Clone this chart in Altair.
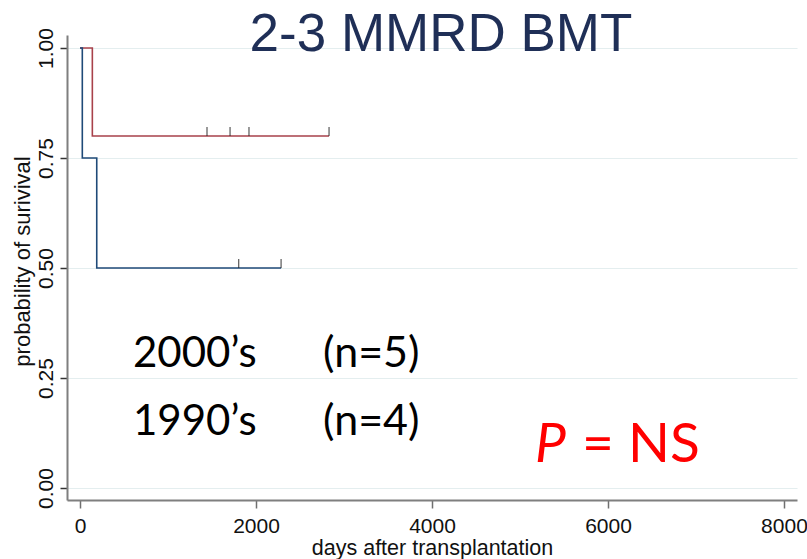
import altair as alt
import pandas as pd

# Kaplan-Meier step curves (days after transplantation, survival probability)
groups = ["2000's", "1990's"]
time_2000s = [0, 140, 2830]
surv_2000s = [1.0, 0.80, 0.80]
time_1990s = [0, 26, 190, 2285]
surv_1990s = [1.0, 0.75, 0.50, 0.50]

# censored observations
cens_time_2000s = [1443, 1705, 1920, 2830]
cens_surv_2000s = [0.80, 0.80, 0.80, 0.80]
cens_time_1990s = [1803, 2285]
cens_surv_1990s = [0.50, 0.50]

y_ticks = [0, 0.25, 0.5, 0.75, 1.0]
x_ticks = [0, 2000, 4000, 6000, 8000]

line_colors = ["#a8414b", "#1f4a78"]

curves = pd.DataFrame(
    [{"group": groups[0], "days": t, "surv": s} for t, s in zip(time_2000s, surv_2000s)]
    + [{"group": groups[1], "days": t, "surv": s} for t, s in zip(time_1990s, surv_1990s)]
)
censored = pd.DataFrame(
    [{"group": groups[0], "days": t, "surv": s} for t, s in zip(cens_time_2000s, cens_surv_2000s)]
    + [{"group": groups[1], "days": t, "surv": s} for t, s in zip(cens_time_1990s, cens_surv_1990s)]
)

x_scale = alt.Scale(domain=[-148, 8148], nice=False, zero=False)
y_scale = alt.Scale(domain=[-0.027, 1.0295], nice=False, zero=False)

x_axis = alt.Axis(
    title="days after transplantation",
    values=x_ticks,
    format="d",
    grid=False,
    tickSize=8,
    labelPadding=24,
    labelBaseline="alphabetic",
    labelFontSize=21,
    titleFontSize=21.5,
    titleFontWeight="normal",
    titleBaseline="alphabetic",
    titleX=365,
    titleY=54,
    titleColor="#111111",
    labelColor="#111111",
)
y_axis = alt.Axis(
    title="probability of surivival",
    values=y_ticks,
    format=".2f",
    grid=True,
    gridColor="#e4eeef",
    gridWidth=1.2,
    tickSize=7,
    labelAngle=-90,
    labelAlign="center",
    labelBaseline="alphabetic",
    labelPadding=8,
    labelFontSize=21,
    titleFontSize=22,
    titleFontWeight="normal",
    titleAngle=-90,
    titleAlign="center",
    titleBaseline="alphabetic",
    titleX=-38,
    titleY=226,
    titleColor="#111111",
    labelColor="#111111",
    tickColor="#333333",
)

color = alt.Color("group:N", scale=alt.Scale(domain=groups, range=line_colors), legend=None)

steps = alt.Chart(curves).mark_line(interpolate="step-after", strokeWidth=1.6).encode(
    x=alt.X("days:Q", scale=x_scale, axis=x_axis),
    y=alt.Y("surv:Q", scale=y_scale, axis=y_axis),
    color=color,
    detail="group:N",
)

ticks = alt.Chart(censored).mark_tick(
    orient="vertical", size=9, thickness=1.3, color="#222222", yOffset=-4.5
).encode(
    x=alt.X("days:Q", scale=x_scale),
    y=alt.Y("surv:Q", scale=y_scale),
)


def label(text, x, y, size, color="#000000", font="Lato", align="left", style="normal"):
    return alt.Chart(pd.DataFrame({"t": [text]})).mark_text(
        font=font, fontSize=size, color=color, align=align, baseline="alphabetic",
        fontStyle=style,
    ).encode(text="t:N", x=alt.value(x), y=alt.value(y))


title = label("2-3 MMRD BMT", 374, 16, 53, color="#1f2f57", font="Liberation Sans", align="center")
l1a = label("2000\u2019s", 66, 332, 42)
l1b = label("(n=5)", 256, 332, 43)
l2a = label("1990\u2019s", 66, 400, 42)
l2b = label("(n=4)", 256, 400, 43)
p_it = label("P", 468, 427, 55, color="#ff0000", style="italic")
p_rest = label("= NS", 515, 427, 55, color="#ff0000")

chart = (
    alt.layer(steps, ticks, title, l1a, l1b, l2a, l2b, p_it, p_rest)
    .properties(
        width=730,
        height=465,
        autosize=alt.AutoSizeParams(type="none"),
        padding={"left": 67, "top": 35, "right": 10, "bottom": 59},
        background="white",
    )
    .configure_view(stroke=None)
    .configure_axis(
        domainColor="#7f7f7f",
        domainWidth=2,
        tickColor="#6f6f6f",
        tickWidth=1.5,
        labelFont="Liberation Sans",
        titleFont="Liberation Sans",
    )
)

chart.save("out.html", embed_options={"renderer": "svg", "actions": False})
